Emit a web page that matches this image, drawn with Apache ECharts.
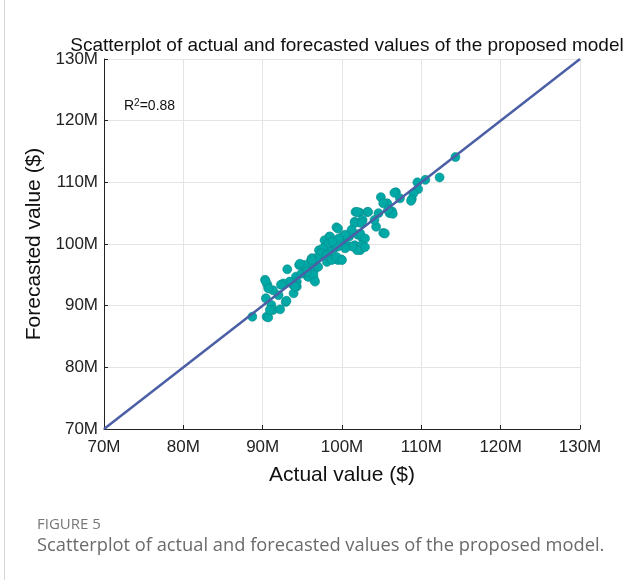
<!DOCTYPE html>
<html>
<head>
<meta charset="utf-8">
<script src="https://cdn.jsdelivr.net/npm/echarts@6/dist/echarts.min.js"></script>
<style>
  html, body { margin: 0; padding: 0; background: #fff; }
  #chart { width: 639px; height: 580px; }
</style>
</head>
<body>
<div id="chart"></div>
<script>
// actual value (M$)
var actual = [
  114.3, 112.3, 110.5, 109.5, 109.6, 109.0, 108.8, 108.7, 106.8, 107.3,
  106.6, 106.3, 104.9, 105.7, 106.0, 106.4, 105.2, 104.6, 104.3, 104.1,
  103.2, 102.2, 101.7, 101.6, 102.2, 102.6, 101.3, 102.0, 102.6, 102.6,
  102.3, 101.6, 100.7, 100.9, 100.1, 100.3, 99.3, 99.7, 99.0, 98.4,
  98.2, 97.8, 98.3, 99.5, 99.9, 98.8, 98.1, 97.8, 97.1, 97.4,
  96.7, 96.1, 95.9, 95.5, 96.5, 96.3, 96.5, 95.7, 94.6, 93.1,
  94.2, 93.8, 93.4, 92.6, 92.3, 90.3, 90.6, 91.3, 92.0, 90.4,
  92.9, 91.1, 91.3, 92.2, 90.5, 88.7,
  105.2, 105.8, 105.4, 103.3, 101.9, 101.6, 102.5, 101.2, 102.3, 102.9,
  102.5, 102.9, 101.9, 101.3, 100.4, 99.5, 99.5, 100.4, 99.6, 98.5,
  98.3, 98.8, 97.6, 97.4, 98.1, 98.7, 99.3, 100.0, 96.8, 96.2,
  97.0, 96.2, 95.3, 94.9, 95.8, 96.4, 96.6, 95.6, 94.3, 94.3,
  90.4, 90.7, 90.7, 90.9, 93.0, 93.9, 94.1, 94.7, 96.2
];
// forecasted value (M$)
var forecast = [
  114.1, 110.8, 110.4, 110.0, 108.9, 108.2, 107.3, 107.0, 108.4, 107.4,
  108.3, 105.3, 107.6, 106.6, 105.0, 104.9, 101.8, 105.0, 102.8, 103.9,
  105.2, 105.1, 105.2, 103.6, 103.5, 103.9, 102.0, 101.5, 100.9, 99.8,
  99.0, 99.8, 99.7, 101.2, 101.2, 99.8, 102.7, 100.4, 99.3, 101.2,
  99.8, 99.3, 98.8, 97.4, 97.5, 97.7, 97.1, 100.6, 99.0, 98.2,
  97.7, 97.4, 96.6, 95.8, 95.8, 94.7, 94.2, 94.7, 96.6, 95.9,
  94.7, 93.4, 93.9, 93.6, 93.4, 94.2, 93.4, 92.5, 91.7, 91.2,
  90.6, 90.1, 89.3, 89.4, 88.2, 88.2,
  106.6, 105.5, 101.7, 105.2, 105.2, 103.4, 103.4, 102.3, 101.7, 100.9,
  99.8, 99.5, 99.0, 99.6, 99.3, 99.6, 102.5, 101.5, 100.9, 101.2,
  100.1, 100.4, 99.3, 98.5, 98.2, 97.4, 97.9, 97.4, 97.7, 96.9,
  96.3, 97.7, 96.6, 95.2, 94.7, 95.0, 93.9, 95.5, 93.9, 93.1,
  93.9, 92.8, 88.1, 89.3, 90.8, 92.0, 93.1, 96.8, 97.4
];
var axisTicks = [70, 80, 90, 100, 110, 120, 130];
var fitLine = [[70, 70], [130, 130]];
var r2 = '0.88';

var points = actual.map(function (a, i) {
  return [a, forecast[i]];
});

var chart = echarts.init(document.getElementById('chart'));
var font = 'Liberation Sans';

chart.setOption({
  animation: false,
  backgroundColor: '#fff',
  title: {
    text: 'Scatterplot of actual and forecasted values of the proposed model',
    left: 342,
    top: 31,
    textAlign: 'center',
    textStyle: { fontFamily: font, fontSize: 19, fontWeight: 'normal', color: '#111' }
  },
  grid: { left: 104, right: 59, top: 59, bottom: 151 },
  xAxis: {
    type: 'value',
    min: axisTicks[0],
    max: axisTicks[axisTicks.length - 1],
    interval: 10,
    name: 'Actual value ($)',
    nameLocation: 'middle',
    nameGap: 36,
    nameTextStyle: { fontFamily: font, fontSize: 21, color: '#111' },
    axisLine: { show: true, lineStyle: { color: '#222', width: 1 } },
    axisTick: { show: true, inside: true, length: 4, lineStyle: { color: '#222' } },
    axisLabel: { fontFamily: font, fontSize: 17, color: '#222', margin: 10,
      formatter: function (v) { return v + 'M'; } },
    splitLine: { show: true, lineStyle: { color: '#e4e4e4', width: 1 } }
  },
  yAxis: {
    type: 'value',
    min: axisTicks[0],
    max: axisTicks[axisTicks.length - 1],
    interval: 10,
    name: 'Forecasted value ($)',
    nameLocation: 'middle',
    nameGap: 58,
    nameRotate: 90,
    nameTextStyle: { fontFamily: font, fontSize: 21, color: '#111' },
    axisLine: { show: true, lineStyle: { color: '#222', width: 1 } },
    axisTick: { show: true, inside: true, length: 4, lineStyle: { color: '#222' } },
    axisLabel: { fontFamily: font, fontSize: 17, color: '#222', margin: 6,
      formatter: function (v) { return v + 'M'; } },
    splitLine: { show: true, lineStyle: { color: '#e4e4e4', width: 1 } }
  },
  series: [
    {
      type: 'scatter',
      data: points,
      symbolSize: 9,
      itemStyle: { color: '#00a8a6', borderColor: '#088c8c', borderWidth: 0.6, opacity: 1 },
      z: 2
    },
    {
      type: 'line',
      data: fitLine,
      symbol: 'none',
      lineStyle: { color: '#4b5fa6', width: 2.5 },
      z: 3
    }
  ],
  graphic: [
    {
      type: 'text',
      left: 124,
      top: 98,
      style: {
        text: 'R{sup|2}=' + r2,
        font: '14px ' + font,
        fill: '#111',
        rich: { sup: { fontSize: 10, verticalAlign: 'top', padding: [0, 0, 6, 0], fill: '#111' } }
      }
    },
    {
      type: 'line',
      shape: { x1: 4.5, y1: 0, x2: 4.5, y2: 580 },
      style: { stroke: '#d6d6d6', lineWidth: 1 }
    },
    {
      type: 'text',
      left: 37,
      top: 517,
      style: { text: 'FIGURE 5', font: '15px "Open Sans"', fill: '#777' }
    },
    {
      type: 'text',
      left: 37,
      top: 537,
      style: {
        text: 'Scatterplot of actual and forecasted values of the proposed model.',
        font: '18.3px "Open Sans"', fill: '#6a6a6a'
      }
    }
  ]
});
</script>
</body>
</html>
